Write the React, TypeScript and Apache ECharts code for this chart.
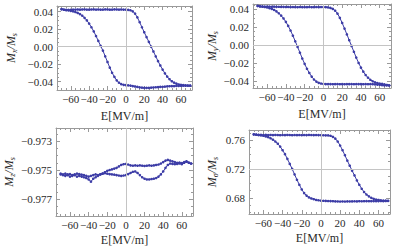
import React, { useEffect, useRef } from 'react';
import * as echarts from 'echarts';

// Electric field samples (MV/m), shared by all branches
const E = [-70, -67.5, -65, -62.5, -60, -57.5, -55, -52.5, -50, -47.5, -45, -42.5, -40, -37.5, -35, -32.5, -30, -27.5, -25, -22.5, -20, -17.5, -15, -12.5, -10, -7.5, -5, -2.5, 0, 2.5, 5, 7.5, 10, 12.5, 15, 17.5, 20, 22.5, 25, 27.5, 30, 32.5, 35, 37.5, 40, 42.5, 45, 47.5, 50, 52.5, 55, 57.5, 60, 62.5, 65, 67.5, 70];

// Mx/Ms : forward sweep (E increasing) and return sweep (listed at ascending E)
const MX_FWD = [0.0428, 0.0424, 0.0421, 0.0422, 0.0420, 0.0423, 0.0424, 0.0425, 0.0423, 0.0425, 0.0426, 0.0424, 0.0423, 0.0425, 0.0426, 0.0424, 0.0425, 0.0423, 0.0424, 0.0426, 0.0425, 0.0423, 0.0424, 0.0426, 0.0425, 0.0424, 0.0425, 0.0424,
  0.0423, 0.0421, 0.0416, 0.0404, 0.0378, 0.0335, 0.0280, 0.0222, 0.0165, 0.0110, 0.0055, 0.0000, -0.0055, -0.0110, -0.0165, -0.0215, -0.0262, -0.0305, -0.0342, -0.0372, -0.0395, -0.0411, -0.0422, -0.0432, -0.0437, -0.0440, -0.0442, -0.0444, -0.0445];
const MX_RET = [0.0428, 0.0422, 0.0418, 0.0414, 0.0410, 0.0404, 0.0396, 0.0386, 0.0372, 0.0354, 0.0330, 0.0300, 0.0264, 0.0222, 0.0175, 0.0122, 0.0066, 0.0010, -0.0045, -0.0110, -0.0175, -0.0240, -0.0298, -0.0345, -0.0385, -0.0412, -0.0428, -0.0436,
  -0.0440, -0.0442, -0.0445, -0.0450, -0.0455, -0.0460, -0.0465, -0.0468, -0.0470, -0.0471, -0.0470, -0.0468, -0.0466, -0.0464, -0.0462, -0.0460, -0.0458, -0.0456, -0.0454, -0.0452, -0.0451, -0.0450, -0.0449, -0.0448, -0.0447, -0.0446, -0.0446, -0.0445, -0.0445];

// My/Ms
const MY_FWD = [0.0438, 0.0434, 0.0431, 0.0432, 0.0430, 0.0431, 0.0429, 0.0430, 0.0428, 0.0429, 0.0427, 0.0428, 0.0426, 0.0427, 0.0425, 0.0426, 0.0425, 0.0424, 0.0426, 0.0425, 0.0424, 0.0425, 0.0426, 0.0424, 0.0425, 0.0426, 0.0425, 0.0426,
  0.0426, 0.0425, 0.0422, 0.0416, 0.0405, 0.0385, 0.0352, 0.0305, 0.0248, 0.0185, 0.0120, 0.0055, -0.0010, -0.0075, -0.0140, -0.0200, -0.0252, -0.0297, -0.0335, -0.0365, -0.0388, -0.0405, -0.0417, -0.0425, -0.0430, -0.0434, -0.0440, -0.0446, -0.0450];
const MY_RET = [0.0438, 0.0434, 0.0430, 0.0426, 0.0421, 0.0414, 0.0405, 0.0393, 0.0377, 0.0356, 0.0330, 0.0298, 0.0260, 0.0215, 0.0163, 0.0105, 0.0043, -0.0020, -0.0085, -0.0150, -0.0210, -0.0265, -0.0312, -0.0352, -0.0385, -0.0408, -0.0422, -0.0430,
  -0.0434, -0.0436, -0.0437, -0.0436, -0.0438, -0.0437, -0.0436, -0.0438, -0.0437, -0.0438, -0.0437, -0.0436, -0.0437, -0.0438, -0.0437, -0.0436, -0.0437, -0.0438, -0.0437, -0.0438, -0.0437, -0.0438, -0.0440, -0.0442, -0.0444, -0.0448, -0.0452, -0.0450, -0.0452];

// Mz/Ms
const MZ_FWD = [-0.97525, -0.97530, -0.97525, -0.97530, -0.97528, -0.97535, -0.97530, -0.97525, -0.97528, -0.97532, -0.97535, -0.97540, -0.97545, -0.97540, -0.97535, -0.97530, -0.97535, -0.97530, -0.97525, -0.97522, -0.97525, -0.97528, -0.97530, -0.97532, -0.97535, -0.97538, -0.97540, -0.97538,
  -0.97535, -0.97528, -0.97520, -0.97512, -0.97510, -0.97520, -0.97535, -0.97550, -0.97560, -0.97565, -0.97565, -0.97562, -0.97560, -0.97555, -0.97545, -0.97530, -0.97510, -0.97485, -0.97465, -0.97455, -0.97458, -0.97460, -0.97458, -0.97455, -0.97460, -0.97450, -0.97442, -0.97448, -0.97455];
const MZ_RET = [-0.97530, -0.97535, -0.97540, -0.97535, -0.97545, -0.97540, -0.97535, -0.97545, -0.97540, -0.97545, -0.97550, -0.97555, -0.97565, -0.97580, -0.97560, -0.97550, -0.97540, -0.97530, -0.97525, -0.97515, -0.97505, -0.97500, -0.97495, -0.97490, -0.97485, -0.97475, -0.97465, -0.97460,
  -0.97458, -0.97462, -0.97468, -0.97470, -0.97468, -0.97470, -0.97468, -0.97470, -0.97472, -0.97470, -0.97468, -0.97470, -0.97468, -0.97465, -0.97462, -0.97455, -0.97445, -0.97435, -0.97430, -0.97435, -0.97440, -0.97445, -0.97450, -0.97448, -0.97452, -0.97445, -0.97440, -0.97450, -0.97455];

// Msigma/Ms
const MS_FWD = [0.7680, 0.7675, 0.7672, 0.7674, 0.7670, 0.7672, 0.7670, 0.7671, 0.7669, 0.7671, 0.7670, 0.7668, 0.7670, 0.7669, 0.7671, 0.7670, 0.7668, 0.7670, 0.7669, 0.7670, 0.7668, 0.7670, 0.7669, 0.7671, 0.7670, 0.7669, 0.7670, 0.7669,
  0.7668, 0.7667, 0.7666, 0.7665, 0.7660, 0.7645, 0.7620, 0.7580, 0.7525, 0.7460, 0.7390, 0.7315, 0.7245, 0.7175, 0.7110, 0.7040, 0.6980, 0.6925, 0.6880, 0.6845, 0.6820, 0.6800, 0.6785, 0.6775, 0.6770, 0.6765, 0.6760, 0.6760, 0.6758];
const MS_RET = [0.7680, 0.7675, 0.7670, 0.7665, 0.7660, 0.7650, 0.7640, 0.7625, 0.7605, 0.7580, 0.7550, 0.7510, 0.7460, 0.7405, 0.7340, 0.7270, 0.7200, 0.7125, 0.7050, 0.6980, 0.6915, 0.6865, 0.6830, 0.6805, 0.6790, 0.6780, 0.6770, 0.6765,
  0.6760, 0.6758, 0.6757, 0.6755, 0.6754, 0.6752, 0.6750, 0.6749, 0.6748, 0.6749, 0.6748, 0.6750, 0.6749, 0.6750, 0.6751, 0.6750, 0.6752, 0.6751, 0.6752, 0.6753, 0.6752, 0.6753, 0.6754, 0.6753, 0.6754, 0.6755, 0.6754, 0.6755, 0.6756];

// Tick values
const X_TICKS = [-60, -40, -20, 0, 20, 40, 60];
const X_MINOR = [-70, -65, -55, -50, -45, -35, -30, -25, -15, -10, -5, 5, 10, 15, 25, 30, 35, 45, 50, 55, 65, 70];
const MXY_TICKS = [-0.04, -0.02, 0, 0.02, 0.04];
const MXY_MINOR = [-0.045, -0.035, -0.03, -0.025, -0.015, -0.01, -0.005, 0.005, 0.01, 0.015, 0.025, 0.03, 0.035, 0.045];
const MZ_TICKS = [-0.977, -0.975, -0.973];
const MZ_MINOR = [-0.978, -0.9775, -0.9765, -0.976, -0.9755, -0.9745, -0.974, -0.9735, -0.9725];
const MS_TICKS = [0.68, 0.72, 0.76];
const MS_MINOR = [0.66, 0.67, 0.69, 0.70, 0.71, 0.73, 0.74, 0.75, 0.77];

const X_MIN = -75;
const X_MAX = 72;

const BLUE = '#3c3ca6';
const FRAME = '#9a9a9a';
const ZERO = '#c4c4c4';
const TXT = '#2a2a2a';
const SERIF = 'Liberation Serif';

const fmt = (d: number) => (v: number) => {
  const s = Math.abs(v).toFixed(d);
  return v < -1e-9 ? '\u2212' + s : s;
};

const loop = (fwd: number[], ret: number[]) => {
  const a = E.map((e, i) => [e, fwd[i]]);
  const b = E.map((e, i) => [e, ret[i]]).reverse();
  return a.concat(b);
};

const panels = [
  { grid: { left: 57, top: 6, width: 135, height: 84 }, fwd: MX_FWD, ret: MX_RET, yMin: -0.0495, yMax: 0.0465, ticks: MXY_TICKS, minor: MXY_MINOR, dec: 2, zeroY: 0, sub: 'x', yGap: 39, xGap: 20 },
  { grid: { left: 253, top: 4, width: 138, height: 84 }, fwd: MY_FWD, ret: MY_RET, yMin: -0.048, yMax: 0.046, ticks: MXY_TICKS, minor: MXY_MINOR, dec: 2, zeroY: 0, sub: 'y', yGap: 34, xGap: 20 },
  { grid: { left: 56, top: 128, width: 137, height: 88 }, fwd: MZ_FWD, ret: MZ_RET, yMin: -0.97817, yMax: -0.9721, ticks: MZ_TICKS, minor: MZ_MINOR, dec: 3, zeroY: -0.975, sub: 'z', yGap: 40, xGap: 18 },
  { grid: { left: 249, top: 130, width: 141, height: 84 }, fwd: MS_FWD, ret: MS_RET, yMin: 0.6575, yMax: 0.774, ticks: MS_TICKS, minor: MS_MINOR, dec: 2, zeroY: 0.72, sub: '\u03c3', yGap: 30, xGap: 18 },
];

function buildOption() {
  const grid: any[] = [];
  const xAxis: any[] = [];
  const yAxis: any[] = [];
  const series: any[] = [];
  const lineStyle = { color: FRAME, width: 1 };
  const labelStyle = { fontFamily: SERIF, fontSize: 11, color: TXT };

  panels.forEach((p, gi) => {
    grid.push({ ...p.grid, containLabel: false });
    const cx = { type: 'value', gridIndex: gi, min: X_MIN, max: X_MAX, splitLine: { show: false } };
    const cy = { type: 'value', gridIndex: gi, min: p.yMin, max: p.yMax, splitLine: { show: false }, scale: true };
    const xi = xAxis.length;
    xAxis.push({
      ...cx, position: 'bottom',
      axisLine: { show: true, onZero: false, lineStyle },
      axisTick: { show: true, inside: true, length: 4, customValues: X_TICKS, lineStyle },
      axisLabel: { show: true, customValues: X_TICKS, formatter: fmt(0), margin: 3, ...labelStyle },
      name: 'E[MV/m]', nameLocation: 'middle', nameGap: p.xGap,
      nameTextStyle: { fontFamily: SERIF, fontSize: 12, color: TXT },
    });
    xAxis.push({ ...cx, position: 'bottom', axisLine: { show: false, onZero: false }, axisTick: { show: true, inside: true, length: 2, customValues: X_MINOR, lineStyle }, axisLabel: { show: false } });
    xAxis.push({ ...cx, position: 'top', axisLine: { show: true, onZero: false, lineStyle }, axisTick: { show: true, inside: true, length: 4, customValues: X_TICKS, lineStyle }, axisLabel: { show: false } });
    xAxis.push({ ...cx, position: 'top', axisLine: { show: false, onZero: false }, axisTick: { show: true, inside: true, length: 2, customValues: X_MINOR, lineStyle }, axisLabel: { show: false } });

    const yi = yAxis.length;
    yAxis.push({
      ...cy, position: 'left',
      axisLine: { show: true, onZero: false, lineStyle },
      axisTick: { show: true, inside: true, length: 4, customValues: p.ticks, lineStyle },
      axisLabel: { show: true, customValues: p.ticks, formatter: fmt(p.dec), margin: 4, ...labelStyle },
      name: `{i|M}{s|${p.sub}}{i|/M}{s|s}`, nameLocation: 'middle', nameGap: p.yGap, nameRotate: 90,
      nameTextStyle: {
        rich: {
          i: { fontFamily: SERIF, fontStyle: 'italic', fontSize: 12, color: TXT, verticalAlign: 'top', lineHeight: 13 },
          s: { fontFamily: SERIF, fontStyle: 'italic', fontSize: 8, color: TXT, verticalAlign: 'bottom', lineHeight: 9, padding: [6, 0, 0, 0] },
        },
      },
    });
    yAxis.push({ ...cy, position: 'left', axisLine: { show: false, onZero: false }, axisTick: { show: true, inside: true, length: 2, customValues: p.minor, lineStyle }, axisLabel: { show: false } });
    yAxis.push({ ...cy, position: 'right', axisLine: { show: true, onZero: false, lineStyle }, axisTick: { show: true, inside: true, length: 4, customValues: p.ticks, lineStyle }, axisLabel: { show: false } });
    yAxis.push({ ...cy, position: 'right', axisLine: { show: false, onZero: false }, axisTick: { show: true, inside: true, length: 2, customValues: p.minor, lineStyle }, axisLabel: { show: false } });

    series.push({
      type: 'line', xAxisIndex: xi, yAxisIndex: yi, data: [[0, p.zeroY]], showSymbol: false, symbol: 'none',
      lineStyle: { width: 0 }, z: 1, silent: true,
      markLine: {
        silent: true, symbol: ['none', 'none'], label: { show: false },
        lineStyle: { color: ZERO, width: 1, type: 'solid' },
        data: [{ xAxis: 0 }, { yAxis: p.zeroY }],
      },
    });
    series.push({
      type: 'line', xAxisIndex: xi, yAxisIndex: yi, data: loop(p.fwd, p.ret), z: 2,
      symbol: 'circle', symbolSize: 2.6, showSymbol: true,
      lineStyle: { color: BLUE, width: 1 }, itemStyle: { color: BLUE },
    });
  });

  return { animation: false, grid, xAxis, yAxis, series };
}

export default function App() {
  const ref = useRef<HTMLDivElement>(null);
  useEffect(() => {
    if (!ref.current) return;
    const chart = echarts.init(ref.current, undefined, { renderer: 'svg' });
    chart.setOption(buildOption() as any);
    return () => chart.dispose();
  }, []);
  return <div ref={ref} style={{ position: 'absolute', left: 0, top: 0, width: 399, height: 248, background: '#fff' }} />;
}
